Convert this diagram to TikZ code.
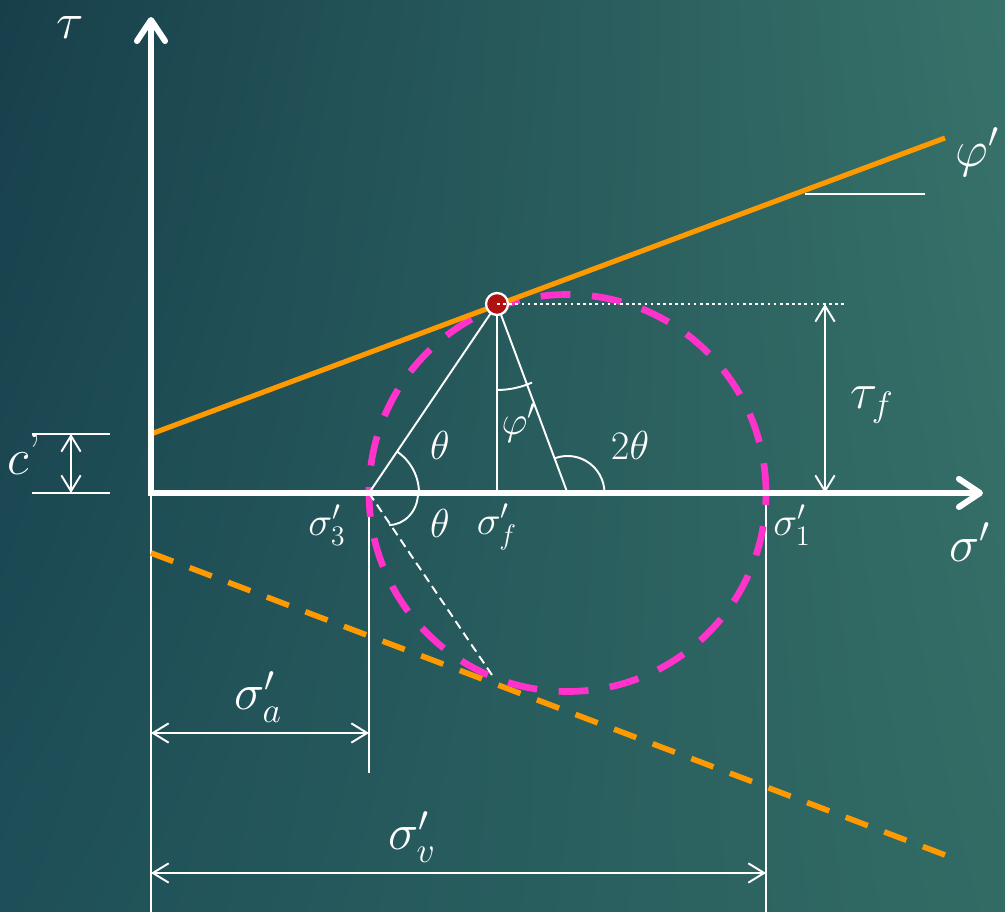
\documentclass[tikz,border=0pt]{standalone}
\usepackage{fix-cm}
\usetikzlibrary{arrows.meta,shadings}
\definecolor{bgUL}{HTML}{173F4B}
\definecolor{bgLL}{HTML}{1E4F58}
\definecolor{bgUR}{HTML}{37726A}
\definecolor{bgLR}{HTML}{326B64}
\definecolor{orng}{HTML}{FF9900}
\definecolor{pnk}{HTML}{FF33CC}
\definecolor{dotred}{HTML}{B01212}
\tikzset{
  axisline/.style={white, line width=3.4pt, line cap=round, line join=miter,
    {Straight Barb[length=12pt,width=16pt,line cap=round,line join=round]}-{Straight Barb[length=12pt,width=16pt,line cap=round,line join=round]}},
  thinw/.style={white, line width=1.1pt},
  dimarrow/.style={thinw, {Straight Barb[length=9pt,width=11pt]}-{Straight Barb[length=9pt,width=11pt]}},
  envline/.style={orng, line width=2.9pt},
  envdash/.style={orng, line width=3.2pt, dash pattern=on 13.5pt off 10pt},
  circdash/.style={pnk, line width=3.8pt, dash pattern=on 17pt off 12.3pt},
  lbl/.style={text=white, inner sep=0pt},
  biglbl/.style={lbl, font=\fontsize{29}{32}\selectfont},
  midlbl/.style={lbl, scale=1.15, font=\fontsize{25}{28}\selectfont},
  smalllbl/.style={lbl, scale=1.15, font=\fontsize{20}{23}\selectfont},
  poledot/.style={circle, fill=dotred, draw=white, line width=1.3pt, minimum size=12.5pt, inner sep=0pt}
}
\begin{document}
\begin{tikzpicture}[x=0.02cm,y=0.02cm]
% background
\shade[upper left=bgUL, upper right=bgUR, lower left=bgLL, lower right=bgLR] (0,0) rectangle (1005,912);
\useasboundingbox (0,0) rectangle (1005,912);
% coordinates
\coordinate (O) at (151,419);
\coordinate (Ytop) at (151,895);
\coordinate (Xend) at (983,419);
\coordinate (S3) at (369,419);
\coordinate (S1) at (766,419);
\coordinate (Cc) at (567.5,419);
\coordinate (Sf) at (497,419);
\coordinate (P) at (497,608);
\coordinate (Lstart) at (151,478);
\coordinate (Lend) at (945,774);
\coordinate (Dstart) at (151,359);
\coordinate (Dend) at (945,57);
\coordinate (Dotend) at (845,608);
\coordinate (Refl) at (494,234);
\coordinate (S3low) at (369,139);
\coordinate (S1low) at (766,0);
\coordinate (Olow) at (151,0);
\coordinate (TfTop) at (825,608);
\coordinate (TfBot) at (825,419);
\coordinate (Ctop) at (71,478);
\coordinate (Cbot) at (71,419);
\coordinate (CLa) at (32,478);
\coordinate (CLb) at (110,478);
\coordinate (CLc) at (32,419);
\coordinate (CLd) at (110,419);
\coordinate (Ha) at (805,718);
\coordinate (Hb) at (925,718);
\coordinate (Aa1) at (151,179);
\coordinate (Aa2) at (369,179);
\coordinate (Av1) at (151,39);
\coordinate (Av2) at (766,39);
\coordinate (ArcL) at (418,419);
% extension lines
\draw[thinw] (O) -- (Olow);
\draw[thinw] (S3) -- (S3low);
\draw[thinw] (S1) -- (S1low);
\draw[thinw] (CLa) -- (CLb);
\draw[thinw] (CLc) -- (CLd);
\draw[thinw] (Ha) -- (Hb);
% dimension arrows
\draw[dimarrow] (Ctop) -- (Cbot);
\draw[dimarrow] (TfTop) -- (TfBot);
\draw[dimarrow] (Aa1) -- (Aa2);
\draw[dimarrow] (Av1) -- (Av2);
% envelopes and circle
\draw[envdash] (Dstart) -- (Dend);
\draw[circdash] (Cc) circle[radius=198.5];
\draw[envline] (Lstart) -- (Lend);
% axes
\draw[axisline] (Ytop) -- (O) -- (Xend);
% construction lines
\draw[thinw] (S3) -- (P);
\draw[thinw] (P) -- (Sf);
\draw[thinw] (P) -- (Cc);
\draw[thinw, dash pattern=on 5pt off 3pt] (S3) -- (Refl);
% angle arcs
\draw[thinw] ([shift={(0:50)}]S3) arc[start angle=0, end angle=55.9, radius=50];
\draw[thinw] (ArcL) arc[start angle=0, end angle=-90, x radius=29, y radius=32];
\draw[thinw] ([shift={(0:37)}]Cc) arc[start angle=0, end angle=110.3, radius=37];
\draw[thinw] ([shift={(-90:86)}]P) arc[start angle=-90, end angle=-66, radius=86];
% pole
\node[poledot] (D) at (P) {};
\draw[white, line width=1pt, dash pattern=on 1.5pt off 2pt] (D.center) -- (Dotend);
% labels
\node[biglbl] (ltau) at (70,884) {$\tau$};
\node[biglbl] (lphi) at (977,760) {$\varphi'$};
\node[midlbl] (ltauf) at (872,507) {$\tau_f$};
\node[midlbl] (lc) at (24,458) {$c$\raisebox{0.12em}{\textquoteright}};
\node[smalllbl] (lth1) at (440,467) {$\theta$};
\node[smalllbl] (lth2) at (440,389) {$\theta$};
\node[smalllbl] (l2th) at (630,467) {$2\theta$};
\node[smalllbl] (lphii) at (519,489) {$\varphi'$};
\node[smalllbl] (ls3) at (327,387) {$\sigma'_3$};
\node[smalllbl] (lsf) at (497,385) {$\sigma'_f$};
\node[smalllbl] (ls1) at (792,387) {$\sigma'_1$};
\node[biglbl] (lsig) at (970,370) {$\sigma'$};
\node[biglbl] (lsa) at (258,215) {$\sigma'_a$};
\node[biglbl] (lsv) at (412,75) {$\sigma'_v$};
\end{tikzpicture}
\end{document}
